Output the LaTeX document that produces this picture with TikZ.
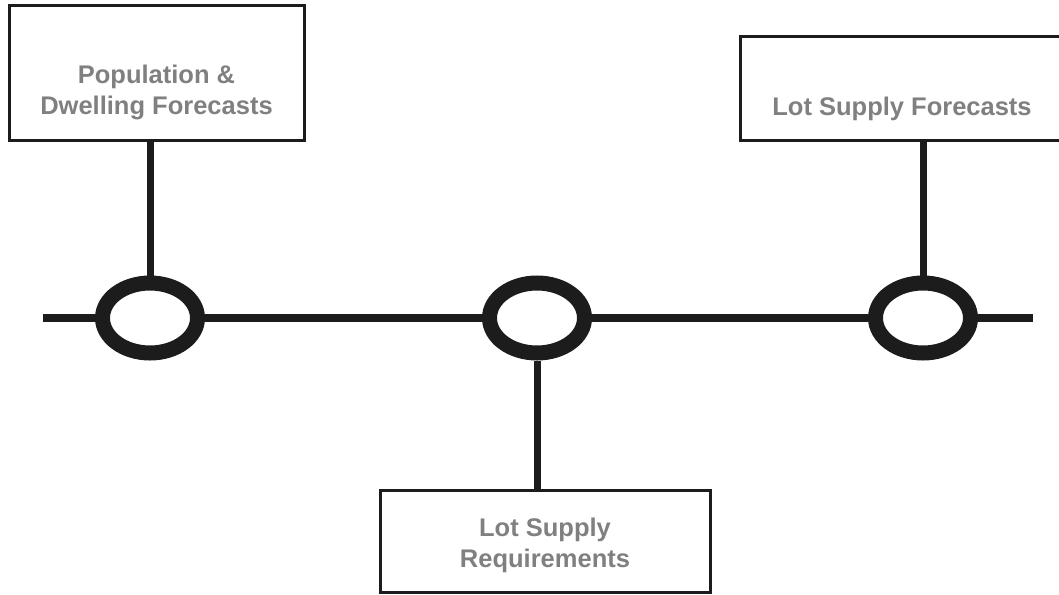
\documentclass[tikz,border=0pt]{standalone}
\usepackage{fontspec}
\setmainfont{Liberation Sans}
\usetikzlibrary{positioning,shapes.geometric}
\definecolor{ink}{HTML}{1C1C1C}
\definecolor{labelgray}{HTML}{808080}
\tikzstyle{panel}   = [rectangle, draw=ink, line width=3pt, fill=white]
\tikzstyle{ring}    = [ellipse, draw=ink, line width=15pt, fill=white,
                       minimum width=95pt, minimum height=70pt]
\tikzstyle{caption} = [font=\fontsize{25.5}{31}\selectfont\bfseries,
                       text=labelgray, align=center]
\tikzstyle{bus}     = [draw=ink, line width=8pt]

\begin{document}
\begin{tikzpicture}[x=1pt,y=-1pt]
        \useasboundingbox (0,0) rectangle (1059,594);

        % main line with the three junctions
        \coordinate (west) at (43,318);
        \coordinate (east) at (1033,318);
        \node[ring] (jPop)    at (150,318) {};
        \node[ring] (jReq)    at (537,318) {};
        \node[ring] (jSupply) at (923,318) {};

        % boxes
        \node[panel, minimum width=295pt, minimum height=135pt] (pop)    at (156.5,73) {};
        \node[panel, minimum width=324pt, minimum height=103pt] (supply) at (902,88.5) {};
        \node[panel, minimum width=330pt, minimum height=102pt] (req)    at (545,541) {};

        \node[caption] (popText)    at ([yshift=-19.5pt]pop.center)  {Population \&\\Dwelling Forecasts};
        \node[caption] (supplyText) at ([yshift=-20pt]supply.center) {Lot Supply Forecasts};
        \node[caption] (reqText)    at ([yshift=-4.5pt]req.center)   {Lot Supply\\Requirements};

        \draw[bus] (west) -- (jPop) -- (jReq) -- (jSupply) -- (east);
        \draw[bus, line width=7pt] (pop.south -| jPop) -- (jPop);
        \draw[bus, line width=7pt] (supply.south -| jSupply) -- (jSupply);
        \draw[bus, line width=7pt] (jReq) -- (req.north -| jReq);
\end{tikzpicture}
\end{document}
